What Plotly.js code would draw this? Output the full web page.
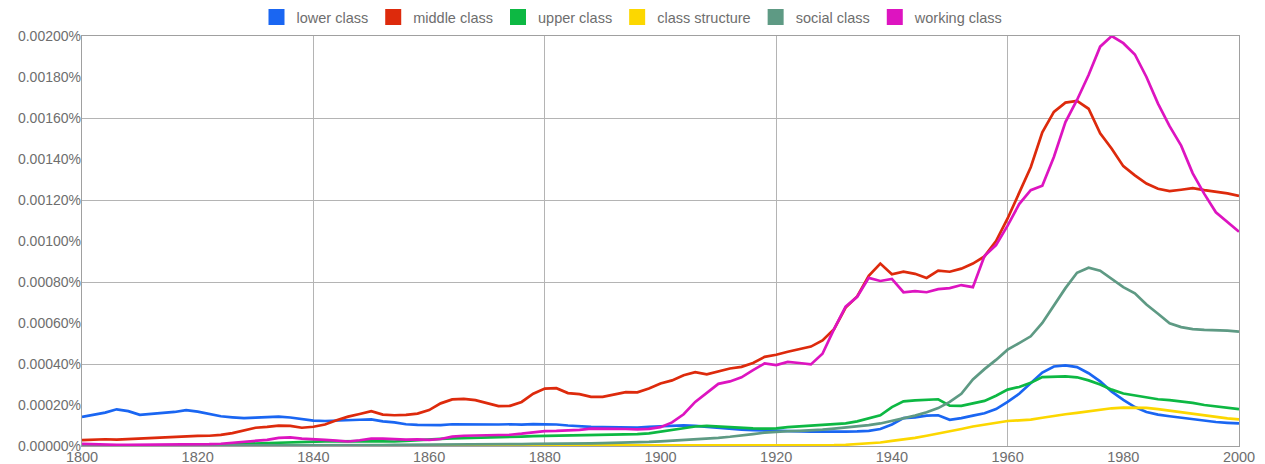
<!DOCTYPE html>
<html>
<head>
<meta charset="utf-8">
<script src="https://cdn.plot.ly/plotly-3.0.1.min.js"></script>
<style>
  html, body { margin: 0; padding: 0; background: #ffffff; }
  #chart { width: 1265px; height: 464px; }
</style>
</head>
<body>
<div id="chart"></div>
<script>
// Values are in units of 0.00001 % (so 200 = 0.00200%)
const years = [1800,1802,1804,1806,1808,1810,1812,1814,1816,1818,1820,1822,1824,1826,1828,1830,1832,1834,1836,1838,
  1840,1842,1844,1846,1848,1850,1852,1854,1856,1858,1860,1862,1864,1866,1868,1870,1872,1874,1876,1878,
  1880,1882,1884,1886,1888,1890,1892,1894,1896,1898,1900,1902,1904,1906,1908,1910,1912,1914,1916,1918,
  1920,1922,1924,1926,1928,1930,1932,1934,1936,1938,1940,1942,1944,1946,1948,1950,1952,1954,1956,1958,
  1960,1962,1964,1966,1968,1970,1972,1974,1976,1978,1980,1982,1984,1986,1988,1990,1992,1994,1996,1998,2000];

const lowerClass = [14.2,15.2,16.3,17.9,17.0,15.2,15.8,16.2,16.6,17.5,16.8,15.5,14.5,14.0,13.6,13.8,14.0,14.3,13.9,13.0,
  12.4,12.2,12.5,12.6,12.8,13.0,12.0,11.5,10.6,10.3,10.1,10.2,10.6,10.5,10.7,10.6,10.5,10.6,10.4,10.7,
  10.7,10.5,10.0,9.6,9.3,9.2,9.1,9.1,9.0,9.4,9.6,9.9,10.1,9.8,9.3,8.8,8.4,8.0,7.7,7.5,
  7.3,7.2,7.1,7.0,7.0,6.9,7.0,7.1,7.4,8.3,10.5,13.6,14.0,14.8,15.0,12.8,13.6,14.8,16.0,18.0,
  21.5,25.5,30.5,35.8,38.8,39.3,38.5,35.5,31.5,26.5,22.5,19.0,16.6,15.3,14.5,13.8,13.0,12.3,11.7,11.3,11.0];

const middleClass = [2.9,3.2,3.3,3.1,3.4,3.5,3.8,4.3,4.6,4.8,4.9,5.0,5.4,6.3,7.6,8.9,9.3,9.9,9.8,8.9,
  9.4,10.5,12.6,14.3,15.6,17.0,15.3,15.0,15.2,15.8,17.5,20.8,22.7,23.0,22.4,21.0,19.5,19.6,21.5,25.5,
  28.0,28.2,25.8,25.3,24.0,24.0,25.0,26.3,26.2,28.0,30.5,32.0,34.5,36.0,35.0,36.5,37.8,38.6,40.5,43.5,
  44.5,46.0,47.4,48.5,51.5,57.0,67.5,73.0,83.0,89.0,83.8,85.0,84.0,82.0,85.5,85.0,86.5,89.0,92.5,100.0,
  111.0,123.5,136.0,153.0,163.0,167.5,168.3,164.5,152.5,145.0,136.5,132.0,128.0,125.5,124.3,125.0,125.8,124.8,124.0,123.2,122.0];

const upperClass = [0.3,0.3,0.3,0.3,0.3,0.3,0.3,0.3,0.3,0.4,0.4,0.5,0.7,0.9,1.1,1.3,1.5,1.7,1.9,2.0,
  2.2,2.3,2.3,2.4,2.5,2.4,2.3,2.2,2.5,2.9,3.2,3.5,3.7,3.8,4.0,4.1,4.2,4.4,4.6,4.8,
  4.9,5.0,5.1,5.2,5.3,5.4,5.5,5.6,5.8,6.2,7.0,8.0,8.8,9.5,9.8,9.5,9.0,8.8,8.6,8.5,
  8.6,9.2,9.6,9.8,10.1,10.6,11.0,12.0,13.4,15.0,19.0,21.8,22.3,22.7,22.8,19.7,19.6,20.8,22.0,24.5,
  27.5,28.8,30.8,33.6,33.8,34.0,33.5,32.0,30.0,27.5,25.6,24.6,23.6,22.8,22.4,21.8,21.0,20.0,19.3,18.6,18.0];

const classStructure = [0.1,0.1,0.1,0.1,0.1,0.1,0.1,0.1,0.1,0.1,0.1,0.1,0.1,0.1,0.1,0.1,0.1,0.1,0.1,0.1,
  0.1,0.1,0.1,0.1,0.1,0.1,0.1,0.1,0.1,0.1,0.1,0.1,0.1,0.1,0.1,0.1,0.1,0.1,0.1,0.1,
  0.1,0.1,0.1,0.1,0.1,0.1,0.1,0.1,0.1,0.1,0.1,0.1,0.1,0.1,0.1,0.1,0.1,0.1,0.1,0.1,
  0.1,0.1,0.1,0.2,0.3,0.4,0.6,0.9,1.3,1.7,2.5,3.2,4.0,5.0,6.0,7.2,8.3,9.5,10.4,11.2,
  12.2,12.5,12.9,13.8,14.8,15.5,16.2,16.9,17.7,18.4,18.7,18.8,18.6,18.0,17.2,16.5,15.6,14.8,14.0,13.5,13.0];

const socialClass = [0.2,0.2,0.2,0.2,0.2,0.2,0.2,0.2,0.3,0.3,0.3,0.3,0.3,0.3,0.4,0.4,0.4,0.4,0.4,0.5,
  0.5,0.5,0.5,0.5,0.5,0.5,0.5,0.6,0.6,0.6,0.6,0.6,0.7,0.7,0.7,0.8,0.8,0.9,0.9,1.0,
  1.0,1.1,1.1,1.2,1.3,1.4,1.5,1.6,1.8,2.0,2.3,2.6,3.0,3.3,3.6,4.0,4.5,5.0,5.8,6.5,
  7.0,7.2,7.4,7.6,8.0,8.5,9.0,9.6,10.2,11.0,12.3,13.5,14.8,16.5,18.5,21.5,25.5,32.5,37.5,42.0,
  47.0,50.2,53.5,60.0,68.5,77.0,84.5,87.0,85.5,81.5,77.5,74.5,69.0,64.5,59.8,58.0,57.0,56.6,56.6,56.3,55.8];

const workingClass = [1.0,0.8,0.7,0.6,0.6,0.6,0.6,0.6,0.7,0.7,0.8,0.9,1.1,1.6,2.3,2.7,3.0,4.0,4.2,3.6,
  3.4,3.0,2.6,2.2,2.8,3.6,3.6,3.2,3.1,3.2,3.0,3.4,4.6,5.0,5.1,5.4,5.4,5.5,6.0,6.8,
  7.3,7.4,7.5,7.9,8.5,8.6,8.4,8.3,8.1,8.4,9.2,11.5,15.5,21.5,26.0,30.3,31.5,33.5,37.0,40.3,
  39.5,41.0,40.5,39.8,45.0,57.0,68.0,72.8,82.0,80.5,81.5,75.0,75.5,75.0,76.5,77.0,78.5,77.5,92.7,98.0,
  107.5,118.0,124.8,127.0,141.0,158.0,168.8,181.0,194.8,200.0,196.5,191.0,180.0,167.0,156.0,146.5,133.0,123.0,114.0,109.4,104.5];

const seriesNames = ['lower class','middle class','upper class','class structure','social class','working class'];
const seriesColors = ['#1a66f2','#dd2a0c','#0db843','#fcd700','#5e9a84','#dd14c0'];
const seriesValues = [lowerClass, middleClass, upperClass, classStructure, socialClass, workingClass];

const yTickVals = [0,20,40,60,80,100,120,140,160,180,200];
const yTickText = ['0.00000%','0.00020%','0.00040%','0.00060%','0.00080%','0.00100%','0.00120%','0.00140%','0.00160%','0.00180%','0.00200%'];
const yGridVals = [0,40,80,120,160,200];
const xTickVals = [1800,1820,1840,1860,1880,1900,1920,1940,1960,1980,2000];
const xGridVals = [1800,1840,1880,1920,1960,2000];

const traces = [];
seriesNames.forEach((name, i) => {
  traces.push({
    type: 'scatter', mode: 'lines', name: name, legendgroup: name, showlegend: false,
    x: years, y: seriesValues[i], xaxis: 'x', yaxis: 'y',
    line: {color: seriesColors[i], width: 2.7}, hoverinfo: 'skip'
  });
});
seriesNames.forEach((name, i) => {
  traces.push({
    type: 'scatter', mode: 'markers', name: name, legendgroup: name, showlegend: true,
    x: [null], y: [null], xaxis: 'x', yaxis: 'y',
    marker: {symbol: 'square', size: 16, color: seriesColors[i]}, hoverinfo: 'skip'
  });
});
traces.push({type: 'scatter', mode: 'lines', x: [], y: [], xaxis: 'x2', yaxis: 'y2', showlegend: false, hoverinfo: 'skip'});

const tickFont = {family: 'Liberation Sans, Arial, sans-serif', color: '#6e6e6e'};

const layout = {
  width: 1265, height: 464,
  margin: {l: 82, r: 26, t: 36, b: 18, pad: 0},
  paper_bgcolor: '#ffffff', plot_bgcolor: '#ffffff',
  showlegend: true,
  legend: {
    orientation: 'h', x: 0.5, xanchor: 'center', xref: 'container',
    y: 1 - 17/464, yanchor: 'middle', yref: 'container',
    font: {family: 'Liberation Sans, Arial, sans-serif', size: 14.5, color: '#6e6e6e'},
    itemwidth: 30, tracegroupgap: 0, bgcolor: 'rgba(0,0,0,0)'
  },
  xaxis: {
    range: [1800, 2000], tickmode: 'array', tickvals: xGridVals, showticklabels: false,
    showgrid: true, gridcolor: '#b4b4b4', gridwidth: 1, zeroline: false,
    showline: true, mirror: true, linecolor: '#a0a0a0', linewidth: 1, ticks: ''
  },
  yaxis: {
    range: [0, 200], tickmode: 'array', tickvals: yGridVals, showticklabels: false,
    showgrid: true, gridcolor: '#b4b4b4', gridwidth: 1, zeroline: false,
    showline: true, mirror: true, linecolor: '#a0a0a0', linewidth: 1, ticks: ''
  },
  xaxis2: {
    overlaying: 'x', side: 'bottom', anchor: 'y2', range: [1800, 2000],
    tickmode: 'array', tickvals: xTickVals, ticktext: xTickVals.map(String),
    showgrid: false, zeroline: false, showline: false, ticks: '',
    tickfont: Object.assign({size: 14.5}, tickFont)
  },
  yaxis2: {
    overlaying: 'y', side: 'left', anchor: 'x2', range: [0, 200],
    tickmode: 'array', tickvals: yTickVals, ticktext: yTickText,
    showgrid: false, zeroline: false, showline: false, ticks: '',
    tickfont: Object.assign({size: 14}, tickFont)
  },
  hovermode: false
};

Plotly.newPlot('chart', traces, layout, {displayModeBar: false, staticPlot: true});
</script>
</body>
</html>
